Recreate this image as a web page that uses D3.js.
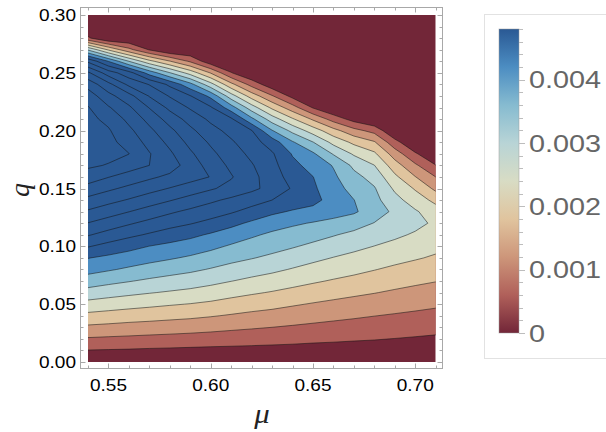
<!DOCTYPE html>
<html>
<head>
<meta charset="utf-8">
<script src="https://cdn.jsdelivr.net/npm/d3@7"></script>
<style>
  body { margin: 0; background: #fff; }
  svg { display: block; }
  text { font-family: "Liberation Sans", Arial, sans-serif; }
</style>
</head>
<body>
<div id="chart"></div>
<script>
const muValues = [0.54, 0.55, 0.56, 0.57, 0.58, 0.59, 0.60, 0.61, 0.62, 0.63, 0.64, 0.65, 0.66, 0.67, 0.68, 0.69, 0.70, 0.71];
const qValues = [0.00, 0.01, 0.02, 0.03, 0.04, 0.05, 0.06, 0.07, 0.08, 0.09, 0.10, 0.11, 0.12, 0.13, 0.14, 0.15,
  0.16, 0.17, 0.18, 0.19, 0.20, 0.21, 0.22, 0.23, 0.24, 0.25, 0.26, 0.27, 0.28, 0.29, 0.30];

// one column per mu value, q from 0 to 0.30, values x 1e-4
const zByMu = [
  [0, 5.8, 11.4, 16.9, 22.4, 28.0, 33.6, 39.2, 44.0, 48.2, 54.4, 60.5, 65.8, 71.2, 76.4, 81.7, 87.2, 91.0, 92.9, 93.8, 92.7, 91.6, 90.4, 87.2, 81.7, 73.1, 58.8, 35.3, 7.0, 0, 0],
  [0, 5.6, 11.0, 16.4, 21.7, 27.0, 32.4, 37.6, 42.6, 46.7, 52.0, 57.8, 63.3, 68.6, 73.9, 79.1, 84.2, 89.6, 91.8, 91.5, 90.6, 88.5, 84.6, 79.9, 73.8, 62.9, 47.8, 23.2, 0, 0, 0],
  [0, 5.4, 10.7, 15.8, 21.0, 26.1, 31.3, 36.3, 41.1, 45.3, 49.9, 55.4, 60.7, 66.1, 71.5, 76.6, 81.6, 86.7, 90.1, 87.9, 85.4, 82.4, 79.0, 74.1, 64.6, 56.3, 36.0, 13.8, 0, 0, 0],
  [0, 5.1, 10.3, 15.4, 20.4, 25.3, 30.3, 35.0, 39.6, 43.9, 47.9, 53.3, 58.3, 63.5, 68.9, 74.1, 79.1, 84.0, 84.4, 81.9, 79.4, 76.1, 71.7, 65.6, 59.7, 45.5, 25.8, 5.6, 0, 0, 0],
  [0, 4.9, 10.0, 14.9, 19.8, 24.5, 29.4, 33.9, 38.3, 42.6, 46.5, 51.2, 56.2, 60.9, 66.4, 71.7, 76.7, 80.9, 79.0, 76.5, 73.5, 69.5, 64.5, 59.5, 52.7, 36.3, 18.3, 0, 0, 0, 0],
  [0, 4.7, 9.6, 14.5, 19.2, 23.8, 28.5, 32.9, 37.1, 41.2, 45.2, 49.4, 54.4, 58.7, 63.8, 69.2, 74.3, 75.2, 73.0, 70.3, 67.4, 63.7, 59.3, 54.3, 44.0, 27.5, 11.1, 0, 0, 0, 0],
  [0, 4.5, 9.2, 13.9, 18.4, 22.9, 27.3, 31.6, 35.6, 39.5, 43.4, 47.3, 52.3, 56.8, 61.1, 66.7, 71.8, 69.6, 67.5, 65.1, 62.1, 58.8, 54.7, 46.5, 32.2, 17.6, 1.9, 0, 0, 0, 0],
  [0, 4.4, 8.8, 13.2, 17.5, 21.7, 25.9, 30.1, 34.0, 37.7, 41.3, 45.2, 49.6, 54.7, 58.8, 64.1, 66.5, 64.7, 62.7, 60.8, 58.2, 55.0, 44.6, 32.6, 19.7, 6.3, 0, 0, 0, 0, 0],
  [0, 4.3, 8.4, 12.6, 16.6, 20.6, 24.7, 28.7, 32.5, 36.3, 39.5, 42.9, 47.0, 51.9, 56.6, 61.3, 61.7, 60.5, 58.7, 56.5, 54.3, 43.4, 32.8, 21.3, 9.8, 0, 0, 0, 0, 0, 0],
  [0, 4.1, 8.1, 12.0, 15.9, 19.7, 23.6, 27.4, 31.2, 34.8, 38.0, 40.9, 44.7, 49.2, 54.0, 58.1, 57.0, 55.9, 54.7, 51.2, 42.4, 33.0, 22.7, 12.5, 2.1, 0, 0, 0, 0, 0, 0],
  [0, 4.0, 7.7, 11.4, 15.0, 18.6, 22.4, 26.0, 29.6, 33.1, 36.5, 39.6, 42.9, 47.4, 51.6, 53.4, 51.5, 49.7, 47.5, 42.6, 34.4, 24.7, 14.5, 4.1, 0, 0, 0, 0, 0, 0, 0],
  [0, 3.7, 7.3, 10.8, 14.2, 17.6, 21.2, 24.7, 28.0, 31.4, 34.8, 38.1, 41.6, 46.0, 49.9, 49.0, 48.1, 45.7, 42.9, 36.2, 27.2, 17.1, 5.5, 0, 0, 0, 0, 0, 0, 0, 0],
  [0, 3.5, 7.0, 10.2, 13.5, 16.7, 20.1, 23.5, 26.7, 29.8, 33.1, 36.4, 40.2, 44.5, 45.5, 44.3, 43.1, 41.6, 35.5, 28.2, 20.1, 9.5, 0, 0, 0, 0, 0, 0, 0, 0, 0],
  [0, 3.4, 6.6, 9.7, 12.8, 15.9, 19.1, 22.4, 25.5, 28.4, 31.5, 34.6, 38.5, 42.8, 42.1, 40.1, 37.8, 34.7, 29.2, 22.6, 14.0, 3.7, 0, 0, 0, 0, 0, 0, 0, 0, 0],
  [0, 3.2, 6.3, 9.2, 12.1, 15.1, 18.2, 21.2, 24.2, 27.0, 29.9, 32.8, 35.8, 39.0, 37.8, 36.5, 33.8, 30.1, 25.1, 18.6, 10.0, 0, 0, 0, 0, 0, 0, 0, 0, 0, 0],
  [0, 2.9, 5.9, 8.7, 11.5, 14.3, 17.2, 20.1, 22.9, 25.7, 28.4, 31.1, 33.8, 34.8, 32.0, 29.0, 25.3, 20.7, 15.1, 8.1, 0.4, 0, 0, 0, 0, 0, 0, 0, 0, 0, 0],
  [0, 2.7, 5.5, 8.2, 10.9, 13.6, 16.3, 19.1, 21.8, 24.5, 26.9, 29.3, 31.6, 30.7, 27.1, 23.4, 18.2, 13.0, 6.8, 0.3, 0, 0, 0, 0, 0, 0, 0, 0, 0, 0, 0],
  [0, 2.6, 5.1, 7.7, 10.3, 12.9, 15.5, 18.2, 20.7, 23.3, 25.4, 27.1, 29.0, 26.7, 22.4, 16.6, 12.0, 6.2, 0.4, 0, 0, 0, 0, 0, 0, 0, 0, 0, 0, 0, 0]
];

const levels = [0.0006, 0.0012, 0.0018, 0.0024, 0.0030, 0.0036, 0.0042, 0.0048,
  0.0054, 0.0060, 0.0066, 0.0072, 0.0078, 0.0084, 0.0090];
const colorStops = [0, 0.0006, 0.0012, 0.0018, 0.0024, 0.0030, 0.0036, 0.0042, 0.0048];
const colorList = ["#722638", "#b0605a", "#cd967a", "#e0c49e", "#d8dcc4", "#b8d4d6", "#86bbd0", "#4c8dc2", "#2a5994"];

const xTicks = [0.55, 0.60, 0.65, 0.70];
const yTicks = [0.00, 0.05, 0.10, 0.15, 0.20, 0.25, 0.30];
const legendTicks = [0, 0.001, 0.002, 0.003, 0.004];
const legendMax = 0.0048;

const W = 606, H = 432;
const plot = { left: 88, right: 435.7, top: 15, bottom: 362 };

const x = d3.scaleLinear().domain([0.54, 0.71]).range([plot.left, plot.right]);
const y = d3.scaleLinear().domain([0, 0.30]).range([plot.bottom, plot.top]);
const color = d3.scaleLinear().domain(colorStops).range(colorList).clamp(true);

const svg = d3.select("#chart").append("svg")
  .attr("width", W)
  .attr("height", H);

// flatten to the row-major grid d3.contours wants
const nx = muValues.length, ny = qValues.length;
const grid = new Array(nx * ny);
zByMu.forEach((col, i) => col.forEach((v, j) => { grid[j * nx + i] = v * 1e-4; }));

// grid index -> data value (sample i sits at i + 0.5)
const gx = d3.scaleLinear().domain([0.5, nx - 0.5]).range([muValues[0], muValues[nx - 1]]);
const gy = d3.scaleLinear().domain([0.5, ny - 0.5]).range([qValues[0], qValues[ny - 1]]);

const proj = d3.geoTransform({
  point: function (px, py) { this.stream.point(x(gx(px)), y(gy(py))); }
});
const path = d3.geoPath(proj);

const contours = d3.contours().size([nx, ny]).thresholds(levels)(grid);

svg.append("clipPath").attr("id", "plot-clip")
  .append("rect")
  .attr("x", plot.left).attr("y", plot.top)
  .attr("width", plot.right - plot.left)
  .attr("height", plot.bottom - plot.top);

const g = svg.append("g").attr("clip-path", "url(#plot-clip)");

g.append("rect")
  .attr("x", plot.left).attr("y", plot.top)
  .attr("width", plot.right - plot.left)
  .attr("height", plot.bottom - plot.top)
  .attr("fill", color(0));

g.selectAll("path.band")
  .data(contours)
  .enter().append("path")
  .attr("class", "band")
  .attr("d", path)
  .attr("fill", d => color(d.value))
  .attr("stroke", "none");

g.selectAll("path.line")
  .data(contours)
  .enter().append("path")
  .attr("class", "line")
  .attr("d", path)
  .attr("fill", "none")
  .attr("stroke", "#141414")
  .attr("stroke-opacity", 0.62)
  .attr("stroke-width", 0.85);

// frame
const frame = { left: 80.5, right: 442.5, top: 7.5, bottom: 368.5 };
svg.append("rect")
  .attr("x", frame.left).attr("y", frame.top)
  .attr("width", frame.right - frame.left)
  .attr("height", frame.bottom - frame.top)
  .attr("fill", "none")
  .attr("stroke", "#a8a8a8")
  .attr("stroke-width", 1);

const xMinor = d3.range(54, 72).map(d => d / 100);
const yMinor = d3.range(0, 31).map(d => d / 100);
const isMajor = (v, list) => list.some(t => Math.abs(t - v) < 1e-9);

const ticks = svg.append("g").attr("stroke", "#a8a8a8").attr("stroke-width", 1);
xMinor.forEach(v => {
  const len = isMajor(v, xTicks) ? 5 : 3;
  const px = Math.round(x(v)) + 0.5;
  ticks.append("line").attr("x1", px).attr("x2", px).attr("y1", frame.bottom).attr("y2", frame.bottom - len);
  ticks.append("line").attr("x1", px).attr("x2", px).attr("y1", frame.top).attr("y2", frame.top + len);
});
yMinor.forEach(v => {
  const len = isMajor(v, yTicks) ? 5 : 3;
  const py = Math.round(y(v)) + 0.5;
  ticks.append("line").attr("y1", py).attr("y2", py).attr("x1", frame.left).attr("x2", frame.left + len);
  ticks.append("line").attr("y1", py).attr("y2", py).attr("x1", frame.right).attr("x2", frame.right - len);
});

svg.selectAll("text.xtick")
  .data(xTicks)
  .enter().append("text")
  .attr("class", "xtick")
  .attr("transform", d => "translate(" + x(d) + ",391) scale(1.12,1)")
  .attr("text-anchor", "middle")
  .attr("font-size", 17)
  .attr("fill", "#000")
  .text(d => d3.format(".2f")(d));

svg.selectAll("text.ytick")
  .data(yTicks)
  .enter().append("text")
  .attr("class", "ytick")
  .attr("transform", d => "translate(76," + (y(d) + 6) + ") scale(1.12,1)")
  .attr("text-anchor", "end")
  .attr("font-size", 17)
  .attr("fill", "#000")
  .text(d => d3.format(".2f")(d));

// axis labels
svg.append("text")
  .attr("transform", "translate(262,423) scale(1.1,1)")
  .attr("text-anchor", "middle")
  .style("font-family", "'Liberation Serif', 'Times New Roman', serif")
  .style("font-style", "italic")
  .attr("font-size", 28)
  .attr("fill", "#222")
  .text("μ");

svg.append("text")
  .attr("transform", "translate(29,190) rotate(-90)")
  .attr("text-anchor", "middle")
  .style("font-family", "'Liberation Serif', 'Times New Roman', serif")
  .style("font-style", "italic")
  .attr("font-size", 28)
  .attr("fill", "#222")
  .text("q");

// legend panel
svg.append("rect")
  .attr("x", 484.5).attr("y", 14.5)
  .attr("width", 200).attr("height", 344)
  .attr("fill", "none")
  .attr("stroke", "#e2e2e2");

const bar = { x: 499, y: 29, w: 20, h: 304 };
const yc = d3.scaleLinear().domain([0, legendMax]).range([bar.y + bar.h, bar.y]);

const grad = svg.append("defs").append("linearGradient")
  .attr("id", "cbar")
  .attr("x1", 0).attr("y1", 1).attr("x2", 0).attr("y2", 0);
grad.selectAll("stop")
  .data(colorStops)
  .enter().append("stop")
  .attr("offset", d => d / legendMax)
  .attr("stop-color", d => color(d));

svg.append("rect")
  .attr("x", bar.x).attr("y", bar.y)
  .attr("width", bar.w).attr("height", bar.h)
  .attr("fill", "url(#cbar)")
  .attr("stroke", "#9a9a9a")
  .attr("stroke-opacity", 0.6)
  .attr("stroke-width", 0.8);

const legendMinor = d3.range(0, 25).map(d => d * 0.0002);
svg.append("g")
  .attr("stroke", "#bdbdbd")
  .selectAll("line")
  .data(legendMinor)
  .enter().append("line")
  .attr("x1", bar.x + bar.w)
  .attr("x2", d => bar.x + bar.w + (Math.round(d * 1e4) % 10 === 0 ? 6 : 4))
  .attr("y1", d => Math.round(yc(d)) + 0.5)
  .attr("y2", d => Math.round(yc(d)) + 0.5);

svg.selectAll("text.ltick")
  .data(legendTicks)
  .enter().append("text")
  .attr("class", "ltick")
  .attr("transform", d => "translate(529," + (yc(d) + 8.6) + ") scale(1.2,1)")
  .attr("font-size", 24)
  .attr("fill", "#666")
  .text(d => d === 0 ? "0" : d3.format(".3f")(d));
</script>
</body>
</html>
